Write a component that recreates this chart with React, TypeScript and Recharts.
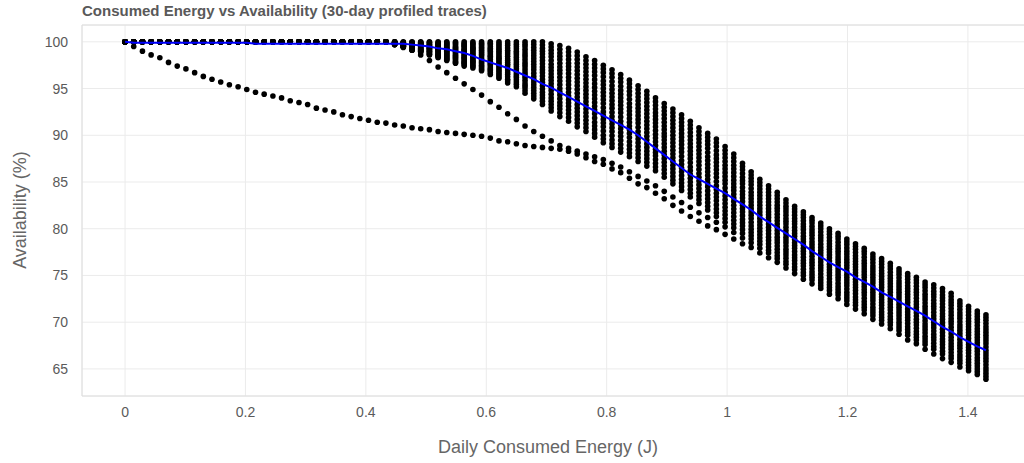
import React from "react";
import {
  ComposedChart,
  Scatter,
  XAxis,
  YAxis,
  CartesianGrid,
  ReferenceLine,
} from "recharts";

// daily consumed energy (J), one value per profiled step
const ENERGY_J = [
  0, 0.0144, 0.0289, 0.0433, 0.0578, 0.0722, 0.0867, 0.1011, 0.1156, 0.13,
  0.1444, 0.1589, 0.1733, 0.1878, 0.2022, 0.2167, 0.2311, 0.2456, 0.26, 0.2744,
  0.2889, 0.3033, 0.3178, 0.3322, 0.3467, 0.3611, 0.3756, 0.39, 0.4044, 0.4189,
  0.4333, 0.4478, 0.4622, 0.4767, 0.4911, 0.5056, 0.52, 0.5344, 0.5489, 0.5633,
  0.5778, 0.5922, 0.6067, 0.6211, 0.6356, 0.65, 0.6644, 0.6789, 0.6933, 0.7078,
  0.7222, 0.7367, 0.7511, 0.7656, 0.78, 0.7944, 0.8089, 0.8233, 0.8378, 0.8522,
  0.8667, 0.8811, 0.8956, 0.91, 0.9244, 0.9389, 0.9533, 0.9678, 0.9822, 0.9967,
  1.0111, 1.0256, 1.04, 1.0544, 1.0689, 1.0833, 1.0978, 1.1122, 1.1267, 1.1411,
  1.1556, 1.17, 1.1844, 1.1989, 1.2133, 1.2278, 1.2422, 1.2567, 1.2711, 1.2856,
  1.3, 1.3144, 1.3289, 1.3433, 1.3578, 1.3722, 1.3867, 1.4011, 1.4156, 1.43,
];

// availability (%) per trace
const TRACE_A = [
  100, 99.5, 99.0, 98.6, 98.3, 97.8, 97.4, 97.1, 96.7, 96.3,
  96.0, 95.7, 95.4, 95.2, 94.9, 94.6, 94.4, 94.2, 94.0, 93.7,
  93.5, 93.3, 92.9, 92.7, 92.5, 92.2, 92.0, 91.8, 91.6, 91.4,
  91.3, 91.1, 91.0, 90.8, 90.7, 90.6, 90.4, 90.3, 90.2, 90.1,
  90.0, 89.9, 89.7, 89.4, 89.3, 89.1, 88.9, 88.8, 88.7, 88.6,
  88.5, 88.3, 88.0, 87.6, 87.2, 86.9, 86.4, 86.0, 85.4, 84.8,
  84.4, 83.8, 83.2, 82.5, 81.9, 81.3, 80.8, 80.3, 79.9, 79.4,
  78.9, 78.4, 78.0, 77.4, 76.9, 76.4, 75.8, 75.2, 74.6, 74.1,
  73.6, 73.0, 72.5, 71.9, 71.4, 70.9, 70.3, 69.8, 69.3, 68.7,
  68.1, 67.7, 67.1, 66.6, 66.1, 65.7, 65.2, 64.8, 64.4, 63.9,
];

const TRACE_B = [
  100, 100, 100, 100, 100, 100, 100, 100, 100, 100,
  100, 100, 100, 100, 100, 100, 100, 100, 100, 100,
  100, 100, 100, 100, 100, 100, 100, 100, 100, 100,
  100, 99.8, 99.5, 99.1, 98.6, 98.0, 97.3, 96.7, 96.1, 95.5,
  94.9, 94.3, 93.6, 93.0, 92.3, 91.7, 91.0, 90.4, 89.9, 89.4,
  88.9, 88.6, 88.3, 88.0, 87.7, 87.4, 87.0, 86.6, 86.1, 85.6,
  85.1, 84.6, 84.0, 83.4, 82.8, 82.3, 81.7, 81.2, 80.7, 80.2,
  79.6, 79.0, 78.5, 77.9, 77.4, 76.8, 76.2, 75.6, 75.0, 74.5,
  73.9, 73.4, 72.9, 72.3, 71.8, 71.3, 70.7, 70.2, 69.7, 69.1,
  68.6, 68.1, 67.6, 67.1, 66.6, 66.1, 65.6, 65.1, 64.7, 64.2,
];

const BAND_0 = [
  100, 100, 100, 100, 100, 100, 100, 100, 100, 100,
  100, 100, 100, 100, 100, 100, 100, 100, 100, 100,
  100, 100, 100, 100, 100, 100, 100, 100, 100, 100,
  100, 99.7, 99.4, 99.1, 98.9, 98.6, 98.3, 98.0, 97.7, 97.4,
  97.2, 96.9, 96.5, 96.1, 95.6, 95.2, 94.5, 93.9, 93.3, 92.6,
  92.0, 91.5, 90.9, 90.4, 89.8, 89.2, 88.7, 88.2, 87.7, 87.2,
  86.7, 86.2, 85.5, 84.8, 84.1, 83.4, 82.7, 82.0, 81.3, 80.7,
  80.1, 79.5, 78.9, 78.3, 77.7, 77.1, 76.5, 75.9, 75.3, 74.8,
  74.2, 73.7, 73.2, 72.6, 72.1, 71.6, 71.0, 70.5, 70.0, 69.4,
  68.9, 68.4, 67.9, 67.4, 66.9, 66.4, 65.9, 65.4, 65.0, 64.5,
];

const BAND_05 = [
  100, 100, 100, 100, 100, 100, 100, 100, 100, 100,
  100, 100, 100, 100, 100, 100, 100, 100, 100, 100,
  100, 100, 100, 100, 100, 100, 100, 100, 100, 100,
  100, 99.7, 99.45, 99.15, 98.95, 98.65, 98.4, 98.1, 97.8, 97.55,
  97.35, 97.05, 96.7, 96.3, 95.8, 95.45, 94.8, 94.2, 93.65, 92.95,
  92.4, 91.9, 91.3, 90.8, 90.2, 89.6, 89.1, 88.6, 88.1, 87.6,
  87.1, 86.6, 85.9, 85.2, 84.5, 83.8, 83.1, 82.4, 81.7, 81.1,
  80.5, 79.9, 79.25, 78.65, 78.05, 77.45, 76.85, 76.25, 75.65, 75.1,
  74.5, 74.0, 73.5, 72.9, 72.4, 71.9, 71.3, 70.8, 70.3, 69.7,
  69.2, 68.7, 68.2, 67.75, 67.25, 66.75, 66.2, 65.7, 65.3, 64.8,
];

const BAND_1 = [
  100, 100, 100, 100, 100, 100, 100, 100, 100, 100,
  100, 100, 100, 100, 100, 100, 100, 100, 100, 100,
  100, 100, 100, 100, 100, 100, 100, 100, 100, 100,
  100, 99.7, 99.5, 99.2, 99.0, 98.7, 98.5, 98.2, 97.9, 97.7,
  97.5, 97.2, 96.9, 96.5, 96.0, 95.7, 95.1, 94.5, 94.0, 93.3,
  92.8, 92.3, 91.7, 91.2, 90.6, 90.0, 89.5, 89.0, 88.5, 88.0,
  87.5, 87.0, 86.3, 85.6, 84.9, 84.2, 83.5, 82.8, 82.1, 81.5,
  80.9, 80.3, 79.6, 79.0, 78.4, 77.8, 77.2, 76.6, 76.0, 75.4,
  74.8, 74.3, 73.8, 73.2, 72.7, 72.2, 71.6, 71.1, 70.6, 70.0,
  69.5, 69.0, 68.5, 68.1, 67.6, 67.1, 66.5, 66.0, 65.6, 65.1,
];

const BAND_15 = [
  100, 100, 100, 100, 100, 100, 100, 100, 100, 100,
  100, 100, 100, 100, 100, 100, 100, 100, 100, 100,
  100, 100, 100, 100, 100, 100, 100, 100, 100, 100,
  100, 99.75, 99.5, 99.25, 99.05, 98.8, 98.55, 98.3, 98.05, 97.8,
  97.65, 97.35, 97.05, 96.7, 96.25, 95.95, 95.35, 94.8, 94.3, 93.65,
  93.15, 92.7, 92.1, 91.6, 91.0, 90.45, 89.95, 89.45, 88.9, 88.4,
  87.9, 87.4, 86.7, 86.0, 85.3, 84.6, 83.9, 83.2, 82.55, 81.9,
  81.3, 80.65, 79.95, 79.35, 78.75, 78.15, 77.5, 76.9, 76.3, 75.75,
  75.15, 74.65, 74.15, 73.55, 73.05, 72.55, 71.95, 71.45, 70.95, 70.35,
  69.85, 69.35, 68.85, 68.4, 67.9, 67.4, 66.85, 66.35, 65.9, 65.45,
];

const BAND_2 = [
  100, 100, 100, 100, 100, 100, 100, 100, 100, 100,
  100, 100, 100, 100, 100, 100, 100, 100, 100, 100,
  100, 100, 100, 100, 100, 100, 100, 100, 100, 100,
  100, 99.8, 99.5, 99.3, 99.1, 98.9, 98.6, 98.4, 98.2, 97.9,
  97.8, 97.5, 97.2, 96.9, 96.5, 96.2, 95.6, 95.1, 94.6, 94.0,
  93.5, 93.1, 92.5, 92.0, 91.4, 90.9, 90.4, 89.9, 89.3, 88.8,
  88.3, 87.8, 87.1, 86.4, 85.7, 85.0, 84.3, 83.6, 83.0, 82.3,
  81.7, 81.0, 80.3, 79.7, 79.1, 78.5, 77.8, 77.2, 76.6, 76.1,
  75.5, 75.0, 74.5, 73.9, 73.4, 72.9, 72.3, 71.8, 71.3, 70.7,
  70.2, 69.7, 69.2, 68.7, 68.2, 67.7, 67.2, 66.7, 66.2, 65.8,
];

const BAND_25 = [
  100, 100, 100, 100, 100, 100, 100, 100, 100, 100,
  100, 100, 100, 100, 100, 100, 100, 100, 100, 100,
  100, 100, 100, 100, 100, 100, 100, 100, 100, 100,
  100, 99.8, 99.55, 99.35, 99.15, 98.95, 98.7, 98.5, 98.3, 98.05,
  97.9, 97.65, 97.4, 97.1, 96.7, 96.4, 95.9, 95.4, 94.95, 94.4,
  93.9, 93.45, 92.9, 92.4, 91.85, 91.3, 90.8, 90.3, 89.75, 89.2,
  88.7, 88.15, 87.5, 86.8, 86.1, 85.4, 84.7, 84.05, 83.4, 82.7,
  82.1, 81.4, 80.7, 80.05, 79.45, 78.8, 78.15, 77.55, 76.95, 76.4,
  75.8, 75.3, 74.8, 74.2, 73.7, 73.2, 72.6, 72.1, 71.6, 71.0,
  70.5, 70.0, 69.5, 69.05, 68.55, 68.05, 67.5, 67.0, 66.55, 66.1,
];

const BAND_3 = [
  100, 100, 100, 100, 100, 100, 100, 100, 100, 100,
  100, 100, 100, 100, 100, 100, 100, 100, 100, 100,
  100, 100, 100, 100, 100, 100, 100, 100, 100, 100,
  100, 99.8, 99.6, 99.4, 99.2, 99.0, 98.8, 98.6, 98.4, 98.2,
  98.0, 97.8, 97.6, 97.3, 96.9, 96.6, 96.2, 95.7, 95.3, 94.8,
  94.3, 93.8, 93.3, 92.8, 92.3, 91.7, 91.2, 90.7, 90.2, 89.6,
  89.1, 88.5, 87.9, 87.2, 86.5, 85.8, 85.1, 84.5, 83.8, 83.1,
  82.5, 81.8, 81.1, 80.4, 79.8, 79.1, 78.5, 77.9, 77.3, 76.7,
  76.1, 75.6, 75.1, 74.5, 74.0, 73.5, 72.9, 72.4, 71.9, 71.3,
  70.8, 70.3, 69.8, 69.4, 68.9, 68.4, 67.8, 67.3, 66.9, 66.4,
];

const BAND_35 = [
  100, 100, 100, 100, 100, 100, 100, 100, 100, 100,
  100, 100, 100, 100, 100, 100, 100, 100, 100, 100,
  100, 100, 100, 100, 100, 100, 100, 100, 100, 100,
  100, 99.8, 99.6, 99.45, 99.25, 99.1, 98.9, 98.7, 98.5, 98.3,
  98.15, 97.95, 97.75, 97.5, 97.15, 96.85, 96.45, 96.0, 95.65, 95.15,
  94.65, 94.2, 93.7, 93.2, 92.7, 92.1, 91.6, 91.1, 90.6, 90.0,
  89.5, 88.9, 88.3, 87.6, 86.9, 86.2, 85.5, 84.9, 84.2, 83.5,
  82.9, 82.15, 81.45, 80.75, 80.15, 79.45, 78.8, 78.2, 77.6, 77.05,
  76.45, 75.9, 75.4, 74.8, 74.3, 73.8, 73.2, 72.7, 72.2, 71.6,
  71.1, 70.65, 70.15, 69.7, 69.25, 68.75, 68.15, 67.6, 67.2, 66.7,
];

const BAND_4 = [
  100, 100, 100, 100, 100, 100, 100, 100, 100, 100,
  100, 100, 100, 100, 100, 100, 100, 100, 100, 100,
  100, 100, 100, 100, 100, 100, 100, 100, 100, 100,
  100, 99.8, 99.6, 99.5, 99.3, 99.2, 99.0, 98.8, 98.6, 98.4,
  98.3, 98.1, 97.9, 97.7, 97.4, 97.1, 96.7, 96.3, 96.0, 95.5,
  95.0, 94.6, 94.1, 93.6, 93.1, 92.5, 92.0, 91.5, 91.0, 90.4,
  89.9, 89.3, 88.7, 88.0, 87.3, 86.6, 85.9, 85.3, 84.6, 83.9,
  83.3, 82.5, 81.8, 81.1, 80.5, 79.8, 79.1, 78.5, 77.9, 77.4,
  76.8, 76.2, 75.7, 75.1, 74.6, 74.1, 73.5, 73.0, 72.5, 71.9,
  71.4, 71.0, 70.5, 70.0, 69.6, 69.1, 68.5, 67.9, 67.5, 67.0,
];

const BAND_45 = [
  100, 100, 100, 100, 100, 100, 100, 100, 100, 100,
  100, 100, 100, 100, 100, 100, 100, 100, 100, 100,
  100, 100, 100, 100, 100, 100, 100, 100, 100, 100,
  100, 99.85, 99.65, 99.55, 99.4, 99.25, 99.1, 98.9, 98.75, 98.55,
  98.45, 98.3, 98.1, 97.9, 97.6, 97.35, 97.0, 96.65, 96.35, 95.85,
  95.4, 95.0, 94.5, 94.0, 93.5, 92.95, 92.45, 91.95, 91.4, 90.85,
  90.3, 89.7, 89.1, 88.4, 87.75, 87.05, 86.35, 85.7, 85.05, 84.35,
  83.7, 82.9, 82.15, 81.45, 80.85, 80.15, 79.45, 78.85, 78.25, 77.7,
  77.1, 76.55, 76.05, 75.45, 74.95, 74.45, 73.85, 73.35, 72.85, 72.25,
  71.75, 71.3, 70.8, 70.35, 69.95, 69.45, 68.8, 68.25, 67.8, 67.35,
];

const BAND_5 = [
  100, 100, 100, 100, 100, 100, 100, 100, 100, 100,
  100, 100, 100, 100, 100, 100, 100, 100, 100, 100,
  100, 100, 100, 100, 100, 100, 100, 100, 100, 100,
  100, 99.9, 99.7, 99.6, 99.5, 99.3, 99.2, 99.0, 98.9, 98.7,
  98.6, 98.5, 98.3, 98.1, 97.8, 97.6, 97.3, 97.0, 96.7, 96.2,
  95.8, 95.4, 94.9, 94.4, 93.9, 93.4, 92.9, 92.4, 91.8, 91.3,
  90.7, 90.1, 89.5, 88.8, 88.2, 87.5, 86.8, 86.1, 85.5, 84.8,
  84.1, 83.3, 82.5, 81.8, 81.2, 80.5, 79.8, 79.2, 78.6, 78.0,
  77.4, 76.9, 76.4, 75.8, 75.3, 74.8, 74.2, 73.7, 73.2, 72.6,
  72.1, 71.6, 71.1, 70.7, 70.3, 69.8, 69.1, 68.6, 68.1, 67.7,
];

const BAND_55 = [
  100, 100, 100, 100, 100, 100, 100, 100, 100, 100,
  100, 100, 100, 100, 100, 100, 100, 100, 100, 100,
  100, 100, 100, 100, 100, 100, 100, 100, 100, 100,
  100, 99.9, 99.75, 99.6, 99.55, 99.35, 99.25, 99.1, 99.0, 98.85,
  98.75, 98.65, 98.45, 98.25, 98.0, 97.85, 97.55, 97.3, 97.0, 96.55,
  96.2, 95.8, 95.3, 94.8, 94.3, 93.8, 93.3, 92.8, 92.2, 91.7,
  91.1, 90.5, 89.85, 89.2, 88.6, 87.9, 87.2, 86.5, 85.9, 85.2,
  84.45, 83.65, 82.85, 82.15, 81.5, 80.85, 80.15, 79.5, 78.9, 78.3,
  77.7, 77.2, 76.7, 76.1, 75.6, 75.1, 74.5, 74.0, 73.5, 72.9,
  72.4, 71.9, 71.4, 71.05, 70.6, 70.1, 69.4, 68.9, 68.4, 68.0,
];

const BAND_6 = [
  100, 100, 100, 100, 100, 100, 100, 100, 100, 100,
  100, 100, 100, 100, 100, 100, 100, 100, 100, 100,
  100, 100, 100, 100, 100, 100, 100, 100, 100, 100,
  100, 99.9, 99.8, 99.6, 99.6, 99.4, 99.3, 99.2, 99.1, 99.0,
  98.9, 98.8, 98.6, 98.4, 98.2, 98.1, 97.8, 97.6, 97.3, 96.9,
  96.6, 96.2, 95.7, 95.2, 94.7, 94.2, 93.7, 93.2, 92.6, 92.1,
  91.5, 90.9, 90.2, 89.6, 89.0, 88.3, 87.6, 86.9, 86.3, 85.6,
  84.8, 84.0, 83.2, 82.5, 81.8, 81.2, 80.5, 79.8, 79.2, 78.6,
  78.0, 77.5, 77.0, 76.4, 75.9, 75.4, 74.8, 74.3, 73.8, 73.2,
  72.7, 72.2, 71.7, 71.4, 70.9, 70.4, 69.7, 69.2, 68.7, 68.3,
];

const BAND_65 = [
  100, 100, 100, 100, 100, 100, 100, 100, 100, 100,
  100, 100, 100, 100, 100, 100, 100, 100, 100, 100,
  100, 100, 100, 100, 100, 100, 100, 100, 100, 100,
  100, 99.9, 99.8, 99.65, 99.65, 99.5, 99.4, 99.3, 99.2, 99.1,
  99.05, 98.95, 98.8, 98.6, 98.45, 98.35, 98.1, 97.9, 97.65, 97.25,
  96.95, 96.6, 96.1, 95.6, 95.1, 94.6, 94.1, 93.6, 93.0, 92.5,
  91.9, 91.3, 90.6, 90.0, 89.4, 88.7, 88.0, 87.3, 86.7, 86.0,
  85.2, 84.4, 83.55, 82.85, 82.15, 81.55, 80.8, 80.15, 79.55, 78.95,
  78.35, 77.8, 77.3, 76.7, 76.2, 75.7, 75.1, 74.6, 74.1, 73.5,
  73.0, 72.55, 72.05, 71.7, 71.25, 70.75, 70.05, 69.5, 69.0, 68.6,
];

const BAND_7 = [
  100, 100, 100, 100, 100, 100, 100, 100, 100, 100,
  100, 100, 100, 100, 100, 100, 100, 100, 100, 100,
  100, 100, 100, 100, 100, 100, 100, 100, 100, 100,
  100, 99.9, 99.8, 99.7, 99.7, 99.6, 99.5, 99.4, 99.3, 99.2,
  99.2, 99.1, 99.0, 98.8, 98.7, 98.6, 98.4, 98.2, 98.0, 97.6,
  97.3, 97.0, 96.5, 96.0, 95.5, 95.0, 94.5, 94.0, 93.4, 92.9,
  92.3, 91.7, 91.0, 90.4, 89.8, 89.1, 88.4, 87.7, 87.1, 86.4,
  85.6, 84.8, 83.9, 83.2, 82.5, 81.9, 81.1, 80.5, 79.9, 79.3,
  78.7, 78.1, 77.6, 77.0, 76.5, 76.0, 75.4, 74.9, 74.4, 73.8,
  73.3, 72.9, 72.4, 72.0, 71.6, 71.1, 70.4, 69.8, 69.3, 68.9,
];

const BAND_75 = [
  100, 100, 100, 100, 100, 100, 100, 100, 100, 100,
  100, 100, 100, 100, 100, 100, 100, 100, 100, 100,
  100, 100, 100, 100, 100, 100, 100, 100, 100, 100,
  100, 99.9, 99.85, 99.75, 99.75, 99.65, 99.6, 99.5, 99.4, 99.35,
  99.3, 99.25, 99.15, 99.0, 98.9, 98.8, 98.65, 98.5, 98.35, 98.0,
  97.7, 97.35, 96.9, 96.4, 95.95, 95.4, 94.9, 94.4, 93.85, 93.3,
  92.7, 92.05, 91.4, 90.8, 90.2, 89.5, 88.8, 88.15, 87.5, 86.8,
  86.0, 85.15, 84.3, 83.55, 82.85, 82.2, 81.45, 80.8, 80.2, 79.6,
  79.0, 78.4, 77.9, 77.3, 76.8, 76.3, 75.7, 75.2, 74.7, 74.1,
  73.6, 73.2, 72.7, 72.35, 71.95, 71.45, 70.7, 70.1, 69.65, 69.2,
];

const BAND_8 = [
  100, 100, 100, 100, 100, 100, 100, 100, 100, 100,
  100, 100, 100, 100, 100, 100, 100, 100, 100, 100,
  100, 100, 100, 100, 100, 100, 100, 100, 100, 100,
  100, 99.9, 99.9, 99.8, 99.8, 99.7, 99.7, 99.6, 99.5, 99.5,
  99.4, 99.4, 99.3, 99.2, 99.1, 99.0, 98.9, 98.8, 98.7, 98.4,
  98.1, 97.7, 97.3, 96.8, 96.4, 95.8, 95.3, 94.8, 94.3, 93.7,
  93.1, 92.4, 91.8, 91.2, 90.6, 89.9, 89.2, 88.6, 87.9, 87.2,
  86.4, 85.5, 84.7, 83.9, 83.2, 82.5, 81.8, 81.1, 80.5, 79.9,
  79.3, 78.7, 78.2, 77.6, 77.1, 76.6, 76.0, 75.5, 75.0, 74.4,
  73.9, 73.5, 73.0, 72.7, 72.3, 71.8, 71.0, 70.4, 70.0, 69.5,
];

const BAND_85 = [
  100, 100, 100, 100, 100, 100, 100, 100, 100, 100,
  100, 100, 100, 100, 100, 100, 100, 100, 100, 100,
  100, 100, 100, 100, 100, 100, 100, 100, 100, 100,
  100, 99.95, 99.9, 99.85, 99.85, 99.8, 99.75, 99.7, 99.65, 99.6,
  99.55, 99.55, 99.5, 99.4, 99.35, 99.25, 99.2, 99.1, 99.0, 98.75,
  98.45, 98.1, 97.7, 97.2, 96.8, 96.25, 95.75, 95.25, 94.7, 94.1,
  93.5, 92.8, 92.2, 91.6, 91.0, 90.3, 89.6, 89.0, 88.35, 87.6,
  86.8, 85.9, 85.05, 84.25, 83.55, 82.85, 82.1, 81.45, 80.85, 80.25,
  79.65, 79.05, 78.55, 77.95, 77.45, 76.95, 76.35, 75.85, 75.35, 74.75,
  74.25, 73.85, 73.35, 73.0, 72.6, 72.1, 71.35, 70.75, 70.3, 69.85,
];

const BAND_9 = [
  100, 100, 100, 100, 100, 100, 100, 100, 100, 100,
  100, 100, 100, 100, 100, 100, 100, 100, 100, 100,
  100, 100, 100, 100, 100, 100, 100, 100, 100, 100,
  100, 100, 99.9, 99.9, 99.9, 99.9, 99.8, 99.8, 99.8, 99.7,
  99.7, 99.7, 99.7, 99.6, 99.6, 99.5, 99.5, 99.4, 99.3, 99.1,
  98.8, 98.5, 98.1, 97.6, 97.2, 96.7, 96.2, 95.7, 95.1, 94.5,
  93.9, 93.2, 92.6, 92.0, 91.4, 90.7, 90.0, 89.4, 88.8, 88.0,
  87.2, 86.3, 85.4, 84.6, 83.9, 83.2, 82.4, 81.8, 81.2, 80.6,
  80.0, 79.4, 78.9, 78.3, 77.8, 77.3, 76.7, 76.2, 75.7, 75.1,
  74.6, 74.2, 73.7, 73.3, 72.9, 72.4, 71.7, 71.1, 70.6, 70.2,
];

const BAND_95 = [
  100, 100, 100, 100, 100, 100, 100, 100, 100, 100,
  100, 100, 100, 100, 100, 100, 100, 100, 100, 100,
  100, 100, 100, 100, 100, 100, 100, 100, 100, 100,
  100, 100, 99.95, 99.95, 99.95, 99.95, 99.9, 99.9, 99.9, 99.85,
  99.85, 99.85, 99.85, 99.8, 99.8, 99.75, 99.75, 99.7, 99.65, 99.45,
  99.2, 98.9, 98.5, 98.0, 97.6, 97.1, 96.6, 96.1, 95.5, 94.9,
  94.3, 93.6, 93.0, 92.4, 91.8, 91.1, 90.4, 89.8, 89.2, 88.4,
  87.6, 86.65, 85.75, 84.95, 84.25, 83.55, 82.75, 82.1, 81.5, 80.9,
  80.3, 79.7, 79.2, 78.6, 78.1, 77.6, 77.0, 76.5, 76.0, 75.4,
  74.9, 74.5, 74.0, 73.65, 73.25, 72.75, 72.0, 71.4, 70.9, 70.5,
];

const BAND_10 = [
  100, 100, 100, 100, 100, 100, 100, 100, 100, 100,
  100, 100, 100, 100, 100, 100, 100, 100, 100, 100,
  100, 100, 100, 100, 100, 100, 100, 100, 100, 100,
  100, 100, 100, 100, 100, 100, 100, 100, 100, 100,
  100, 100, 100, 100, 100, 100, 100, 100, 100, 99.8,
  99.6, 99.3, 98.9, 98.4, 98.0, 97.5, 97.0, 96.5, 95.9, 95.3,
  94.7, 94.0, 93.4, 92.8, 92.2, 91.5, 90.8, 90.2, 89.6, 88.8,
  88.0, 87.0, 86.1, 85.3, 84.6, 83.9, 83.1, 82.4, 81.8, 81.2,
  80.6, 80.0, 79.5, 78.9, 78.4, 77.9, 77.3, 76.8, 76.3, 75.7,
  75.2, 74.8, 74.3, 74.0, 73.6, 73.1, 72.3, 71.7, 71.2, 70.8,
];

// mean availability across traces (blue line)
const MEAN_AVAIL = [
  100, 99.9, 99.9, 99.9, 99.9, 99.9, 99.9, 99.9, 99.9, 99.9,
  99.9, 99.9, 99.9, 99.9, 99.9, 99.8, 99.8, 99.8, 99.8, 99.8,
  99.8, 99.8, 99.8, 99.8, 99.8, 99.8, 99.8, 99.8, 99.8, 99.8,
  99.8, 99.8, 99.8, 99.7, 99.6, 99.5, 99.3, 99.2, 99.0, 98.8,
  98.5, 98.1, 97.8, 97.5, 97.2, 96.8, 96.4, 96.0, 95.5, 95.1,
  94.6, 94.1, 93.6, 93.1, 92.6, 92.1, 91.6, 91.1, 90.6, 90.0,
  89.3, 88.6, 87.9, 87.2, 86.5, 85.8, 85.3, 84.8, 84.3, 83.8,
  83.2, 82.6, 82.0, 81.3, 80.7, 80.1, 79.5, 78.9, 78.3, 77.6,
  77.0, 76.4, 75.9, 75.4, 74.8, 74.3, 73.8, 73.2, 72.7, 72.2,
  71.7, 71.2, 70.7, 70.1, 69.5, 69.0, 68.4, 67.9, 67.4, 67.0,
];

const X_TICKS = [0, 0.2, 0.4, 0.6, 0.8, 1, 1.2, 1.4];
const Y_TICKS = [65, 70, 75, 80, 85, 90, 95, 100];

const TRACES = [
  TRACE_A, TRACE_B,
  BAND_0, BAND_05, BAND_1, BAND_15, BAND_2, BAND_25, BAND_3, BAND_35,
  BAND_4, BAND_45, BAND_5, BAND_55, BAND_6, BAND_65, BAND_7, BAND_75,
  BAND_8, BAND_85, BAND_9, BAND_95, BAND_10,
];

const FONT = "'Liberation Sans', Arial, sans-serif";
const GRID = "#ebebeb";

const toPoints = (values: number[]) =>
  ENERGY_J.map((x, i) => ({ x, y: values[i] }));

const Dot = (props: any) => (
  <circle cx={props.cx} cy={props.cy} r={2.8} fill="#000" />
);

const NoDot = () => <g />;

export default function App() {
  const tick = { fontSize: 14, fill: "#5a5a5a", fontFamily: FONT };

  return (
    <div
      style={{
        position: "absolute",
        left: 0,
        top: 0,
        width: 1024,
        height: 463,
        overflow: "hidden",
        background: "#fff",
      }}
    >
      <ComposedChart
        width={1040}
        height={463}
        margin={{ top: 25, right: 11, bottom: 0, left: 0 }}
      >
        <CartesianGrid stroke={GRID} strokeWidth={1} />
        <XAxis
          dataKey="x"
          type="number"
          domain={[-0.0715, 1.5015]}
          ticks={X_TICKS}
          allowDataOverflow
          height={67}
          tickLine={false}
          tickSize={0}
          tickMargin={11}
          axisLine={{ stroke: "#dedede" }}
          tick={tick}
          tickFormatter={(v: number) => String(v)}
        />
        <YAxis
          type="number"
          domain={[62.1, 101.8]}
          ticks={Y_TICKS}
          allowDataOverflow
          width={82}
          tickLine={false}
          tickSize={0}
          tickMargin={14}
          axisLine={{ stroke: "#dedede" }}
          tick={tick}
        />
        <ReferenceLine y={101.8} stroke="#dedede" />
        {TRACES.map((t, i) => (
          <Scatter
            key={`trace-${i}`}
            data={toPoints(t)}
            dataKey="y"
            shape={Dot}
            isAnimationActive={false}
          />
        ))}
        {/* mean curve drawn as a scatter line so it sits above the dots */}
        <Scatter
          data={toPoints(MEAN_AVAIL)}
          dataKey="y"
          shape={NoDot}
          line={{ stroke: "#0000ff", strokeWidth: 2 }}
          lineJointType="linear"
          isAnimationActive={false}
        />
      </ComposedChart>
      <svg
        width={1024}
        height={463}
        style={{ position: "absolute", left: 0, top: 0, pointerEvents: "none" }}
      >
        <text x={82} y={16} fontSize={15} fontWeight="bold" fill="#595959" fontFamily={FONT}>
          Consumed Energy vs Availability (30-day profiled traces)
        </text>
        <text
          x={26}
          y={210}
          transform="rotate(-90 26 210)"
          textAnchor="middle"
          fontSize={18}
          fill="#666"
          fontFamily={FONT}
        >
          Availability (%)
        </text>
        <text x={548} y={453} textAnchor="middle" fontSize={18} fill="#666" fontFamily={FONT}>
          Daily Consumed Energy (J)
        </text>
      </svg>
    </div>
  );
}
